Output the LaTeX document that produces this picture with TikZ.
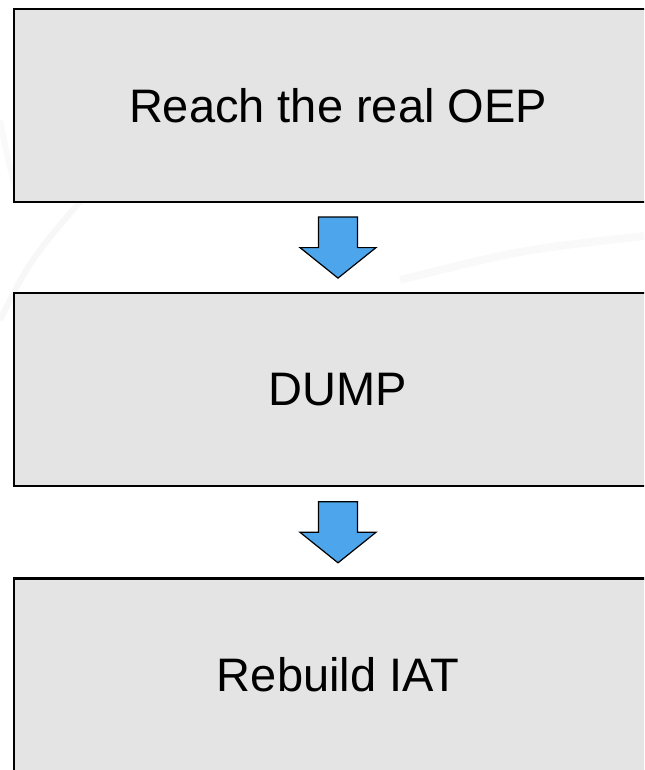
\documentclass[tikz,border=0pt]{standalone}
\usepackage{fontspec}
\setmainfont{Liberation Sans}
\usetikzlibrary{positioning,calc}
\definecolor{boxgray}{RGB}{228,228,228}
\definecolor{arrowblue}{RGB}{77,166,236}
\tikzset{
  stepbox/.style={draw=black,line width=1.1pt,fill=boxgray,inner sep=0pt,
    minimum width=324pt,minimum height=96.5pt,
    font=\fontsize{23.5}{28}\selectfont},
  pics/downarrow/.style={code={
    \draw[fill=arrowblue,line width=0.6pt,line join=miter]
      (-9.75pt,15.25pt) -- (9.75pt,15.25pt) -- (9.75pt,0pt) -- (19pt,0pt)
      -- (0pt,-15.25pt) -- (-19pt,0pt) -- (-9.75pt,0pt) -- cycle;
  }}
}

\begin{document}
\begin{tikzpicture}
  \useasboundingbox (0,0) rectangle (322pt,-385pt);
  \clip (0,0) rectangle (322pt,-385pt);
  % faint streaks in the backdrop
  \draw[gray!6,line width=3pt] (0pt,-160pt) .. controls (15pt,-130pt) .. (45pt,-95pt);
  \draw[gray!5,line width=4pt] (200pt,-140pt) .. controls (260pt,-125pt) .. (322pt,-118pt);
  \draw[gray!5,line width=3pt] (0pt,-60pt) .. controls (4pt,-80pt) .. (8pt,-95pt);
  % the three steps
  \node[stepbox] (reach) at (169pt,-52.75pt) {Reach the real OEP};
  \node[stepbox,below=44.5pt of reach] (dump) {DUMP};
  \node[stepbox,below=45pt of dump] (rebuild) {Rebuild IAT};
  % block arrows between them
  \coordinate (gap1) at ($(reach.south)!0.5!(dump.north)$);
  \coordinate (gap2) at ($(dump.south)!0.5!(rebuild.north)$);
  \pic at (gap1) {downarrow};
  \pic at (gap2) {downarrow};
\end{tikzpicture}
\end{document}
